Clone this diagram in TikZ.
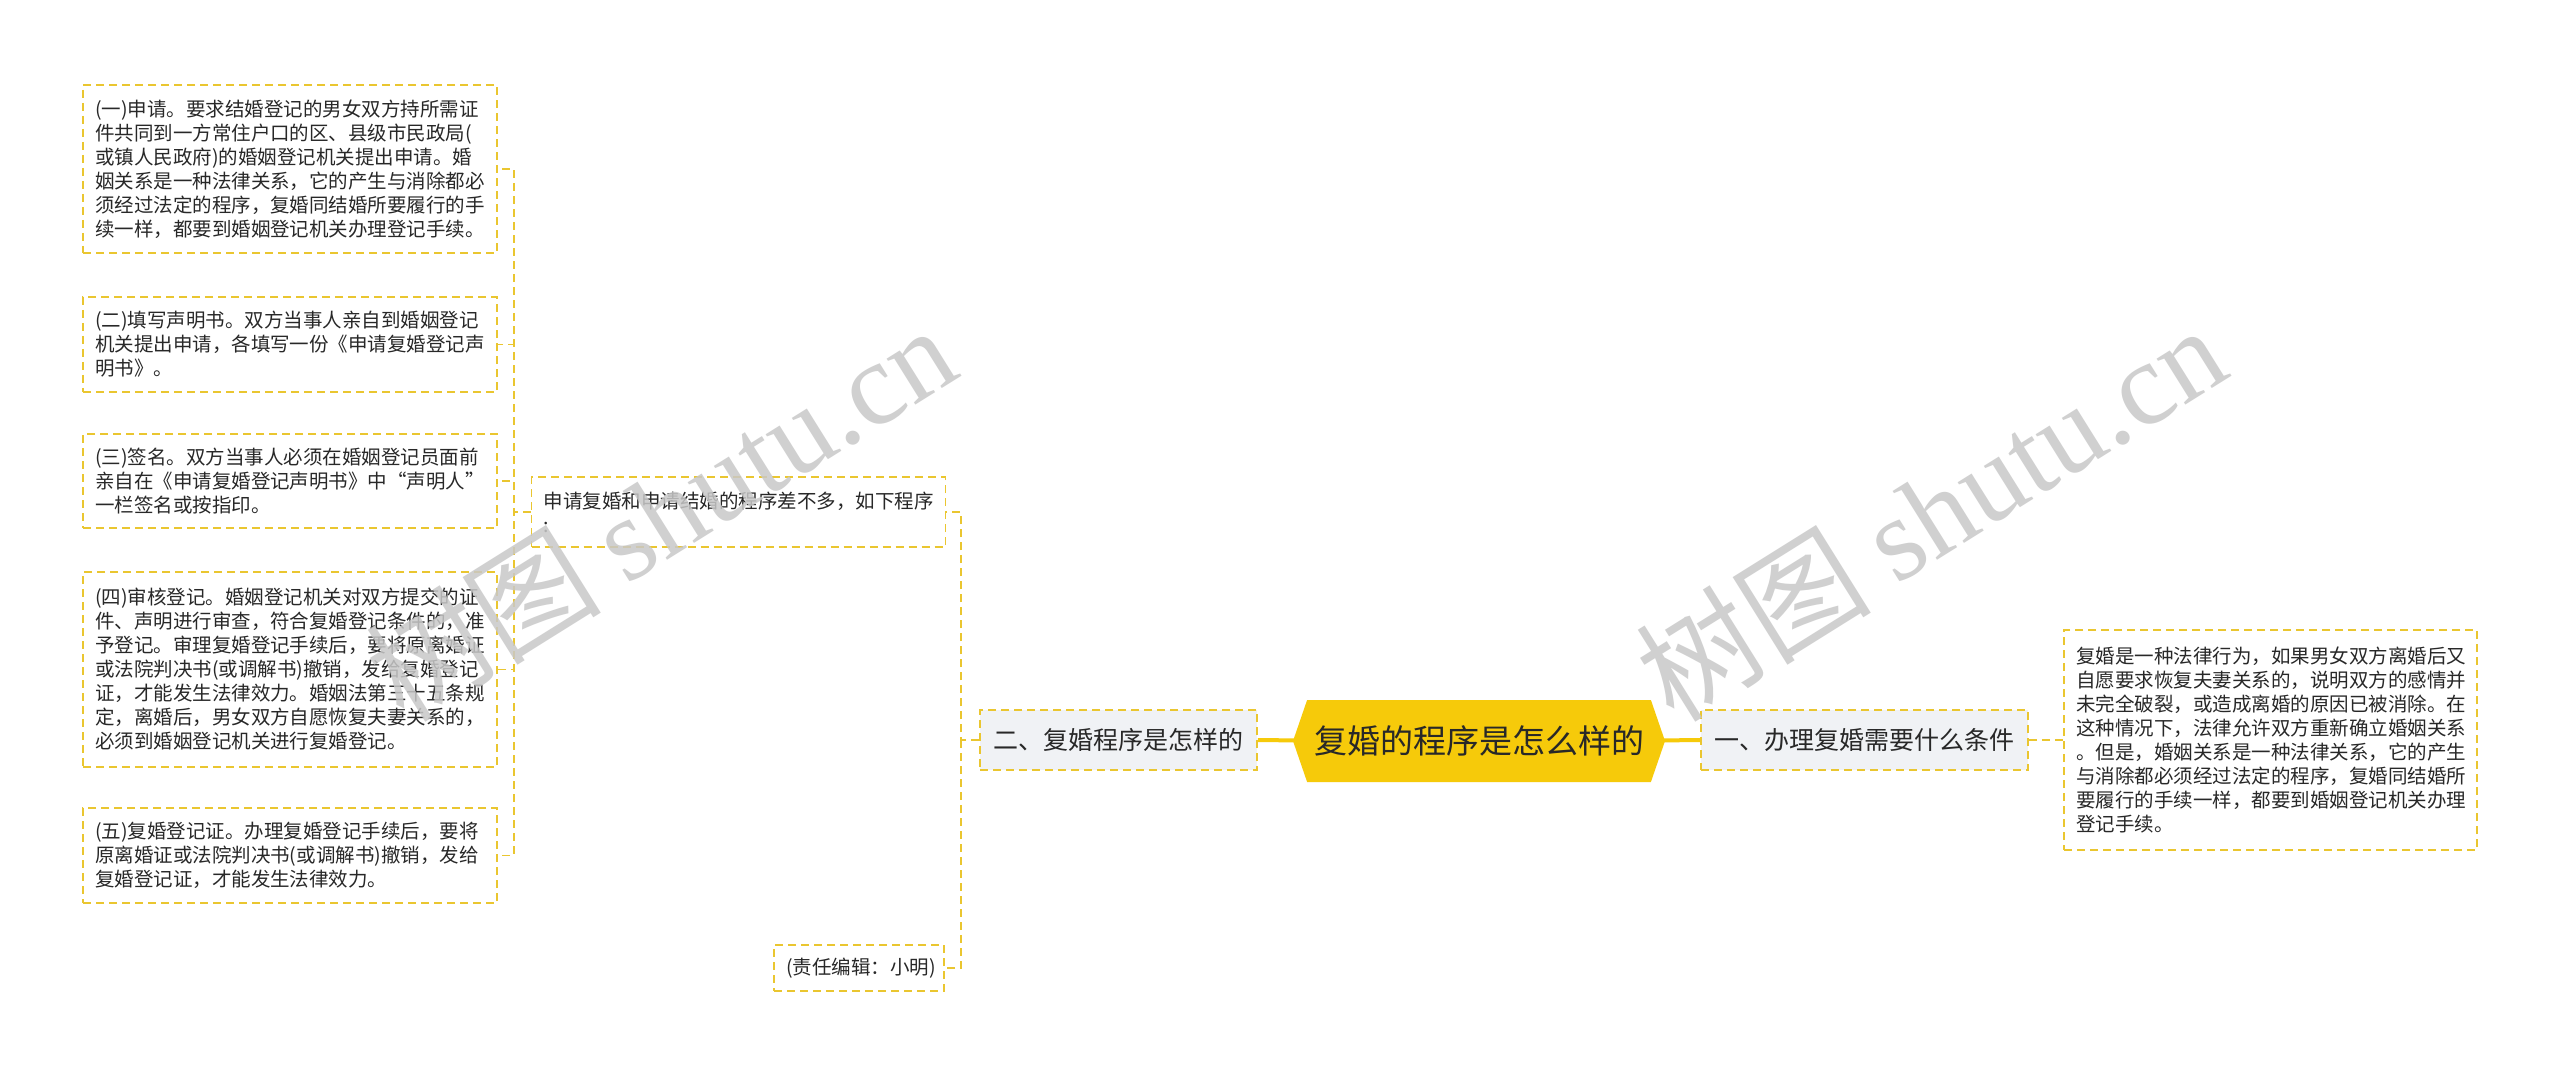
\documentclass[tikz,border=0pt]{standalone}
\usepackage{fontspec}
\setmainfont{Noto Sans CJK SC}
\newfontfamily\wmserif{Liberation Serif}
\usetikzlibrary{shapes.symbols}
\definecolor{ybord}{RGB}{234,198,48}
\definecolor{yfill}{RGB}{246,202,10}
\definecolor{lfill}{RGB}{240,242,245}
\definecolor{txt}{RGB}{40,40,40}
\definecolor{wmcol}{RGB}{200,200,200}
\begin{document}
\begin{tikzpicture}[x=1pt,y=-1pt,
  leaf/.style={draw=ybord, line width=1.8pt, dash pattern=on 8pt off 5pt, text=txt,
    inner xsep=12pt, inner ysep=0pt, align=left, minimum width=414pt,
    text width=390pt, font=\fontsize{19.5}{24}\selectfont},
  label/.style={draw=ybord, fill=lfill, line width=1.8pt, dash pattern=on 8pt off 5pt,
    text=txt, inner xsep=0pt, inner ysep=0pt, minimum height=60pt,
    font=\fontsize{25}{30}\selectfont},
  conn/.style={draw=ybord, line width=1.8pt, dash pattern=on 8pt off 5pt},
  mainconn/.style={draw=yfill, line width=4pt},
  wmark/.style={rotate=32, text=wmcol, text opacity=0.85, inner sep=0pt,
    font=\fontsize{118}{118}\selectfont}]
\fill[white] (0,0) rectangle (2560,1075);
\useasboundingbox (0,0) rectangle (2560,1075);

% left leaves
\node[leaf, minimum height=168pt] (b1) at (290,169) {(一)申请。要求结婚登记的男女双方持所需证\\件共同到一方常住户口的区、县级市民政局(\\或镇人民政府)的婚姻登记机关提出申请。婚\\姻关系是一种法律关系，它的产生与消除都必\\须经过法定的程序，复婚同结婚所要履行的手\\续一样，都要到婚姻登记机关办理登记手续。};
\node[leaf, minimum height=95pt] (b2) at (290,344.5) {(二)填写声明书。双方当事人亲自到婚姻登记\\机关提出申请，各填写一份《申请复婚登记声\\明书》。};
\node[leaf, minimum height=94pt] (b3) at (290,481) {(三)签名。双方当事人必须在婚姻登记员面前\\亲自在《申请复婚登记声明书》中“声明人”\\一栏签名或按指印。};
\node[leaf, minimum height=195pt] (b4) at (290,669.5) {(四)审核登记。婚姻登记机关对双方提交的证\\件、声明进行审查，符合复婚登记条件的，准\\予登记。审理复婚登记手续后，要将原离婚证\\或法院判决书(或调解书)撤销，发给复婚登记\\证，才能发生法律效力。婚姻法第三十五条规\\定，离婚后，男女双方自愿恢复夫妻关系的，\\必须到婚姻登记机关进行复婚登记。};
\node[leaf, minimum height=95pt] (b5) at (290,855.5) {(五)复婚登记证。办理复婚登记手续后，要将\\原离婚证或法院判决书(或调解书)撤销，发给\\复婚登记证，才能发生法律效力。};

% middle
\node[leaf, minimum width=413pt, minimum height=70pt] (p) at (738.5,512) {申请复婚和申请结婚的程序差不多，如下程序\\:};
\node[leaf, minimum width=170pt, text width=146pt, minimum height=46pt] (e) at (859,968) {(责任编辑：小明)};

% labels and center
\node[label, minimum width=277pt] (l2) at (1118.5,740) {二、复婚程序是怎样的};
\node[label, minimum width=327pt] (l1) at (1864.5,740) {一、办理复婚需要什么条件};
\node[leaf, minimum width=413pt, text width=389pt, minimum height=220pt] (r) at (2270.5,740) {复婚是一种法律行为，如果男女双方离婚后又\\自愿要求恢复夫妻关系的，说明双方的感情并\\未完全破裂，或造成离婚的原因已被消除。在\\这种情况下，法律允许双方重新确立婚姻关系\\。但是，婚姻关系是一种法律关系，它的产生\\与消除都必须经过法定的程序，复婚同结婚所\\要履行的手续一样，都要到婚姻登记机关办理\\登记手续。};

% connectors
\coordinate (tl) at (514,512);
\coordinate (tr) at (961,740);
\foreach \b in {b1,b2,b3,b4,b5} { \draw[conn] (p.west) -- (tl) |- (\b.east); }
\draw[conn] (l2.west) -- (tr) |- (p.east);
\draw[conn] (tr) |- (e.east);
\draw[conn] (l1.east) -- (r.west);
\draw[mainconn] (l2.east) -- (1300,740.5);
\draw[mainconn] (1658,740.5) -- (l1.west);

\node[shape=signal, signal to=west and east, signal pointer angle=142, fill=yfill,
  minimum width=372pt, minimum height=82pt, inner sep=0pt, text=txt,
  font=\fontsize{33}{40}\selectfont] (c) at (1479,741) {复婚的程序是怎么样的};

% watermarks
\node[wmark] (wm1) at (660,512) {树图 {\wmserif shutu.cn}};
\node[wmark] (wm2) at (1930,512) {树图 {\wmserif shutu.cn}};
\end{tikzpicture}
\end{document}
